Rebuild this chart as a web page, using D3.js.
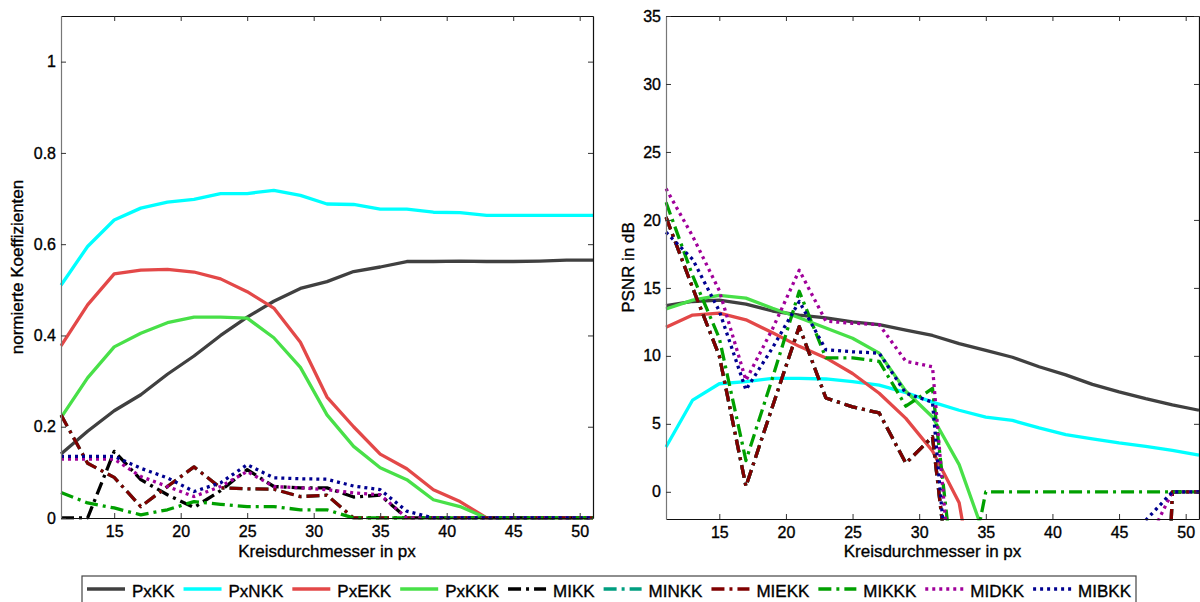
<!DOCTYPE html>
<html>
<head>
<meta charset="utf-8">
<script src="https://cdn.jsdelivr.net/npm/d3@7"></script>
<style>
  body { margin: 0; background: #fff; }
  svg text { font-family: "Liberation Sans", Arial, sans-serif; stroke: #000; stroke-width: 0.35px; }
</style>
</head>
<body>
<svg width="1200" height="602"></svg>
<script>
// Kreisdurchmesser (x values)
const diameters = [11, 13, 15, 17, 19, 21, 23, 25, 27, 29, 31, 33, 35, 37, 39, 41, 43, 45, 47, 49, 51];
const xTicks = [15, 20, 25, 30, 35, 40, 45, 50];
const coefTicks = [0, 0.2, 0.4, 0.6, 0.8, 1];
const psnrTicks = [0, 5, 10, 15, 20, 25, 30, 35];

const seriesNames = ['PxKK', 'PxNKK', 'PxEKK', 'PxKKK', 'MIKK', 'MINKK', 'MIEKK', 'MIKKK', 'MIDKK', 'MIBKK'];

// left panel: normierte Koeffizienten
const coefPxKK  = [0.14, 0.19, 0.235, 0.27, 0.315, 0.355, 0.40, 0.44, 0.475, 0.503, 0.518, 0.54, 0.55, 0.562, 0.562, 0.563, 0.562, 0.562, 0.563, 0.565, 0.565];
const coefPxNKK = [0.51, 0.595, 0.653, 0.679, 0.692, 0.698, 0.711, 0.711, 0.718, 0.707, 0.688, 0.687, 0.677, 0.677, 0.670, 0.669, 0.663, 0.663, 0.663, 0.663, 0.663];
const coefPxEKK = [0.377, 0.467, 0.535, 0.543, 0.545, 0.539, 0.524, 0.496, 0.46, 0.385, 0.265, 0.2, 0.14, 0.108, 0.062, 0.036, 0, 0, 0, 0, 0];
const coefPxKKK = [0.22, 0.307, 0.375, 0.405, 0.428, 0.44, 0.44, 0.438, 0.395, 0.33, 0.226, 0.157, 0.11, 0.084, 0.04, 0.025, 0, 0, 0, 0, 0];
const coefMIKK  = [0, 0, 0.146, 0.084, 0.051, 0.023, 0.06, 0.106, 0.069, 0.066, 0.066, 0.046, 0.05, 0, 0, 0, 0, 0, 0, 0, 0];
const coefMINKK = [0.226, 0.12, 0.089, 0.025, 0.069, 0.112, 0.066, 0.064, 0.063, 0.047, 0.05, 0, 0, 0, 0, 0, 0, 0, 0, 0, 0];
const coefMIEKK = [0.226, 0.12, 0.089, 0.025, 0.069, 0.112, 0.066, 0.064, 0.063, 0.047, 0.05, 0, 0, 0, 0, 0, 0, 0, 0, 0, 0];
const coefMIKKK = [0.056, 0.033, 0.022, 0.007, 0.018, 0.036, 0.03, 0.025, 0.025, 0.018, 0.018, 0, 0, 0, 0, 0, 0, 0, 0, 0, 0];
const coefMIDKK = [0.129, 0.129, 0.129, 0.091, 0.069, 0.047, 0.069, 0.102, 0.069, 0.066, 0.062, 0.055, 0.051, 0, 0, 0, 0, 0, 0, 0, 0];
const coefMIBKK = [0.135, 0.135, 0.135, 0.109, 0.088, 0.058, 0.077, 0.117, 0.088, 0.086, 0.085, 0.07, 0.062, 0.015, 0, 0, 0, 0, 0, 0, 0];

// right panel: PSNR in dB (null = no value, below the axis)
const psnrPxKK  = [13.7, 14.0, 14.1, 13.8, 13.3, 13.0, 12.8, 12.5, 12.3, 11.9, 11.5, 10.9, 10.4, 9.9, 9.2, 8.6, 7.9, 7.35, 6.85, 6.4, 6.0];
const psnrPxNKK = [3.3, 6.75, 7.95, 8.1, 8.35, 8.35, 8.3, 8.1, 7.85, 7.3, 6.6, 6.0, 5.5, 5.25, 4.7, 4.2, 3.9, 3.6, 3.35, 3.05, 2.7];
const psnrPxEKK = [12.1, 13.0, 13.15, 12.65, 11.7, 10.7, 9.85, 8.7, 7.25, 5.4, 3.0, -0.8, -12, null, null, null, null, null, null, null, null];
const psnrPxKKK = [13.45, 14.1, 14.45, 14.25, 13.5, 12.8, 12.05, 11.3, 10.2, 7.4, 5.5, 2.0, -3.5, null, null, null, null, null, null, null, null];
const psnrMIKK  = [20.2, 15.0, 10.0, 0.4, 6.3, 12.15, 6.9, 6.25, 5.8, 2.1, 4.05, -13, null, null, null, null, null, null, -50, 0, 0];
const psnrMINKK = [20.2, 15.0, 10.0, 0.4, 6.3, 12.15, 6.9, 6.25, 5.8, 2.1, 4.05, -13, null, null, null, null, null, null, -50, 0, 0];
const psnrMIEKK = [20.2, 15.0, 10.0, 0.4, 6.3, 12.15, 6.9, 6.25, 5.8, 2.1, 4.05, -13, null, null, null, null, null, null, -50, 0, 0];
const psnrMIKKK = [21.3, 15.9, 11.3, 2.3, 8.4, 14.75, 9.85, 9.85, 9.6, 6.3, 7.6, -9.9, 0, 0, 0, 0, 0, 0, 0, 0, 0];
const psnrMIDKK = [22.3, 18.8, 14.8, 8.2, 12.0, 16.3, 12.55, 12.4, 12.3, 9.6, 9.2, -14, null, null, null, null, null, null, -4, 0, 0];
const psnrMIBKK = [19.1, 17.1, 13.3, 7.5, 10.6, 14.0, 10.45, 10.3, 10.2, 7.25, 6.6, -16, null, null, null, null, null, null, -2.1, 0, 0];

// styles
const seriesColors = ['#404040', '#00ffff', '#e34848', '#48e048', '#000000', '#009e80', '#800000', '#00a000', '#a0009a', '#000090'];
const dashDot = '13,5,3,5';
const dotted = '3,4';
const seriesDash = [null, null, null, null, dashDot, dashDot, dashDot, dashDot, dotted, dotted];

const coefSeries = [coefPxKK, coefPxNKK, coefPxEKK, coefPxKKK, coefMIKK, coefMINKK, coefMIEKK, coefMIKKK, coefMIDKK, coefMIBKK];
const psnrSeries = [psnrPxKK, psnrPxNKK, psnrPxEKK, psnrPxKKK, psnrMIKK, psnrMINKK, psnrMIEKK, psnrMIKKK, psnrMIDKK, psnrMIBKK];

const svg = d3.select('svg');
const defs = svg.append('defs');

const drawPanel = (cfg) => {
  const xScale = d3.scaleLinear().domain([11, 51]).range([cfg.left, cfg.right]);
  const yScale = d3.scaleLinear().domain(cfg.yDomain).range([cfg.bottom, cfg.top]);

  defs.append('clipPath').attr('id', cfg.id)
    .append('rect')
      .attr('x', cfg.left - 1.5).attr('y', cfg.top - 1.5)
      .attr('width', cfg.right - cfg.left + 3).attr('height', cfg.bottom - cfg.top + 3);

  const g = svg.append('g');

  const line = d3.line()
    .defined(d => d[1] !== null)
    .x(d => xScale(d[0]))
    .y(d => yScale(d[1]));

  const lines = g.append('g').attr('clip-path', `url(#${cfg.id})`);
  cfg.series.forEach((values, i) => {
    lines.append('path')
      .datum(diameters.map((d, j) => [d, values[j]]))
      .attr('d', line)
      .attr('fill', 'none')
      .attr('stroke', seriesColors[i])
      .attr('stroke-width', 3.3)
      .attr('stroke-linejoin', 'round')
      .attr('stroke-dasharray', seriesDash[i]);
  });

  const styleAxis = (sel, domainColor) => {
    sel.attr('font-size', 16).attr('font-family', null);
    sel.select('.domain').attr('stroke', domainColor).attr('stroke-width', 1.2);
    sel.selectAll('.tick line').attr('stroke', '#333');
    sel.selectAll('.tick text').attr('fill', '#000');
  };

  g.append('g')
    .attr('transform', `translate(0,${cfg.bottom})`)
    .call(d3.axisBottom(xScale).tickValues(xTicks).tickSizeInner(-5).tickSizeOuter(0).tickPadding(8))
    .call(sel => styleAxis(sel, '#111'));

  g.append('g')
    .attr('transform', `translate(0,${cfg.top})`)
    .call(d3.axisTop(xScale).tickValues(xTicks).tickSizeInner(-5).tickSizeOuter(0).tickFormat(() => ''))
    .call(sel => styleAxis(sel, '#111'));

  g.append('g')
    .attr('transform', `translate(${cfg.left},0)`)
    .call(d3.axisLeft(yScale).tickValues(cfg.yTicks).tickSizeInner(-5).tickSizeOuter(0).tickPadding(5)
      .tickFormat(d => String(d)))
    .call(sel => styleAxis(sel, '#777'));

  g.append('g')
    .attr('transform', `translate(${cfg.right},0)`)
    .call(d3.axisRight(yScale).tickValues(cfg.yTicks).tickSizeInner(-5).tickSizeOuter(0).tickFormat(() => ''))
    .call(sel => styleAxis(sel, '#111'));

  g.append('text')
    .attr('x', (cfg.left + cfg.right) / 2)
    .attr('y', 557)
    .attr('text-anchor', 'middle')
    .attr('font-size', 17)
    .text('Kreisdurchmesser in px');

  g.append('text')
    .attr('transform', `translate(${cfg.labelX},${(cfg.top + cfg.bottom) / 2}) rotate(-90)`)
    .attr('text-anchor', 'middle')
    .attr('font-size', 17)
    .text(cfg.yLabel);
};

drawPanel({
  id: 'clipCoef', left: 61, right: 593, top: 16, bottom: 518,
  yDomain: [0, 1.1], yTicks: coefTicks, series: coefSeries,
  yLabel: 'normierte Koeffizienten', labelX: 23
});

drawPanel({
  id: 'clipPsnr', left: 666, right: 1199, top: 16, bottom: 519,
  yDomain: [-2, 35], yTicks: psnrTicks, series: psnrSeries,
  yLabel: 'PSNR in dB', labelX: 634
});

// legend
const legend = svg.append('g');
legend.append('rect')
  .attr('x', 82).attr('y', 576)
  .attr('width', 1054).attr('height', 40)
  .attr('fill', '#fff').attr('stroke', '#444').attr('stroke-width', 1.2);

let cx = 87;
seriesNames.forEach((name, i) => {
  legend.append('line')
    .attr('x1', cx).attr('x2', cx + 38)
    .attr('y1', 589).attr('y2', 589)
    .attr('stroke', seriesColors[i])
    .attr('stroke-width', 3.3)
    .attr('stroke-dasharray', seriesDash[i]);
  const t = legend.append('text')
    .attr('x', cx + 45).attr('y', 597)
    .attr('font-size', 17)
    .text(name);
  cx += 45 + t.node().getComputedTextLength() + 9;
});
</script>
</body>
</html>
